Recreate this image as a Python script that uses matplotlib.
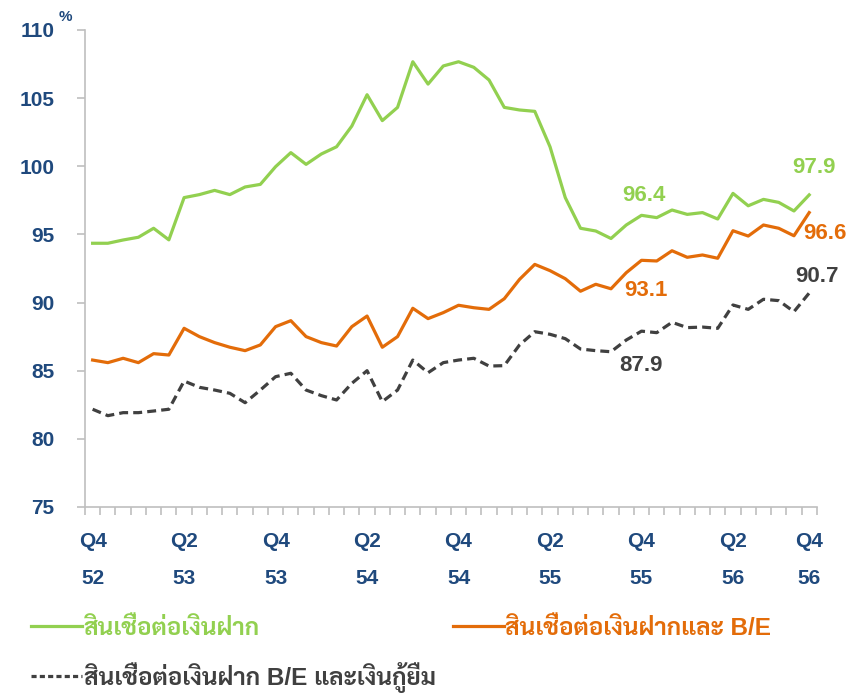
import matplotlib
matplotlib.use("Agg")
import matplotlib.pyplot as plt
from matplotlib import font_manager
from matplotlib.lines import Line2D

# pick a font that has Thai glyphs, Latin/digits stay in Liberation Sans (Arial look)
names = {f.name for f in font_manager.fontManager.ttflist}
thai = next((n for n in ["Sarabun", "Noto Sans Thai Looped", "Noto Sans Thai", "Anuphan"]
             if n in names), "DejaVu Sans")
plt.rcParams['font.family'] = ['Liberation Sans', thai]

# monthly ratios, %
loan_dep = [94.35, 94.35, 94.59, 94.79, 95.45, 94.6, 97.7, 97.92, 98.23, 97.92,
            98.48, 98.67, 99.97, 101.0, 100.14, 100.9, 101.43, 102.95, 105.25, 103.35,
            104.32, 107.67, 106.03, 107.36, 107.67, 107.26, 106.33, 104.32, 104.13, 104.03,
            101.43, 97.7, 95.45, 95.25, 94.7, 95.69, 96.4, 96.23, 96.79, 96.47,
            96.6, 96.13, 98.01, 97.1, 97.57, 97.35, 96.72, 97.9]
loan_dep_be = [85.78, 85.59, 85.91, 85.59, 86.25, 86.15, 88.11, 87.5, 87.06, 86.72,
               86.47, 86.89, 88.23, 88.67, 87.5, 87.06, 86.81, 88.23, 89.01, 86.72,
               87.5, 89.58, 88.82, 89.26, 89.8, 89.62, 89.5, 90.28, 91.7, 92.8,
               92.34, 91.75, 90.83, 91.34, 91.01, 92.19, 93.1, 93.05, 93.8, 93.32,
               93.49, 93.25, 95.27, 94.88, 95.69, 95.45, 94.9, 96.6]
loan_dep_be_borrow = [82.17, 81.7, 81.92, 81.92, 82.04, 82.17, 84.24, 83.78, 83.58, 83.34,
                      82.65, 83.58, 84.56, 84.81, 83.58, 83.17, 82.85, 84.07, 85.0, 82.73,
                      83.58, 85.78, 84.85, 85.59, 85.78, 85.91, 85.34, 85.37, 86.89, 87.86,
                      87.67, 87.35, 86.59, 86.47, 86.39, 87.25, 87.9, 87.79, 88.55, 88.16,
                      88.2, 88.11, 89.82, 89.5, 90.24, 90.14, 89.33, 90.7]

tick_idx = [0, 6, 12, 18, 24, 30, 36, 42, 47]
tick_lbl = ["Q4\n52", "Q2\n53", "Q4\n53", "Q2\n54", "Q4\n54", "Q2\n55", "Q4\n55", "Q2\n56", "Q4\n56"]

names_leg = ["สินเชื่อต่อเงินฝาก", "สินเชื่อต่อเงินฝากและ B/E", "สินเชื่อต่อเงินฝาก B/E และเงินกู้ยืม"]
green = "#92D050"
orange = "#E36C09"
dark = "#404040"
blue = "#1F497D"
grey = "#BFBFBF"

fig = plt.figure(figsize=(8.63, 6.94), dpi=100)
ax = fig.add_axes([0.0985, 0.2695, 0.848, 0.6873])

x = list(range(len(loan_dep)))
ax.plot(x, loan_dep, color=green, lw=2.3)
ax.plot(x, loan_dep_be, color=orange, lw=2.3)
ax.plot(x, loan_dep_be_borrow, color=dark, lw=2.3, dashes=(2.8, 1.6))

ax.set_xlim(-0.5, len(x) - 0.5)
ax.set_ylim(75, 110)
ax.set_yticks(range(75, 111, 5))
for s in ["top", "right"]:
    ax.spines[s].set_visible(False)
for s in ["left", "bottom"]:
    ax.spines[s].set_color(grey)
    ax.spines[s].set_linewidth(1.2)

ax.tick_params(axis="y", direction="out", length=6, width=1.2, color=grey, pad=16,
               labelsize=15, labelcolor=blue)
for t in ax.get_yticklabels():
    t.set_fontweight("bold")

# category boundary ticks (no labels) + labels at chosen months
ax.set_xticks([i - 0.5 for i in range(len(x) + 1)])
ax.set_xticklabels([])
ax.tick_params(axis="x", which="major", direction="out", length=6, width=1.2, color=grey)
ax.set_xticks(tick_idx, minor=True)
ax.set_xticklabels(tick_lbl, minor=True)
ax.tick_params(axis="x", which="minor", length=0, pad=18, labelsize=15, labelcolor=blue)
for t in ax.get_xticklabels(minor=True):
    t.set_fontweight("bold")
    t.set_linespacing(2.2)

ax.text(-0.027, 1.012, "%", transform=ax.transAxes, fontsize=11, fontweight="bold",
        color=blue, ha="center", va="bottom")

# value labels
lab_kw = dict(textcoords="offset points", fontsize=16, fontweight="bold",
              ha="center", va="center", annotation_clip=False)
ax.annotate("96.4", (36, loan_dep[36]), xytext=(2, 14.5), color=green, **lab_kw)
ax.annotate("93.1", (36, loan_dep_be[36]), xytext=(3, -21.5), color=orange, **lab_kw)
ax.annotate("87.9", (36, loan_dep_be_borrow[36]), xytext=(0, -24.5), color=dark, **lab_kw)
ax.annotate("97.9", (47, loan_dep[47]), xytext=(3.3, 20), color=green, **lab_kw)
ax.annotate("96.6", (47, loan_dep_be[47]), xytext=(11, -14.7), color=orange, **lab_kw)
ax.annotate("90.7", (47, loan_dep_be_borrow[47]), xytext=(5.5, 12), color=dark, **lab_kw)

handles = [Line2D([], [], color=green, lw=2.3),
           Line2D([], [], color=dark, lw=2.3, dashes=(1.6, 1.0)),
           Line2D([], [], color=orange, lw=2.3)]
leg = fig.legend(handles, [names_leg[0], names_leg[2], names_leg[1]], ncol=2,
                 loc="upper left", bbox_to_anchor=(0.025, 0.125), frameon=False,
                 prop={"size": 17.5, "weight": "bold"}, handlelength=2.1, handletextpad=0.05,
                 columnspacing=0.7, labelspacing=0.9, borderaxespad=0)
for t, c in zip(leg.get_texts(), [green, dark, orange]):
    t.set_color(c)

fig.savefig("out.png", dpi=100)
